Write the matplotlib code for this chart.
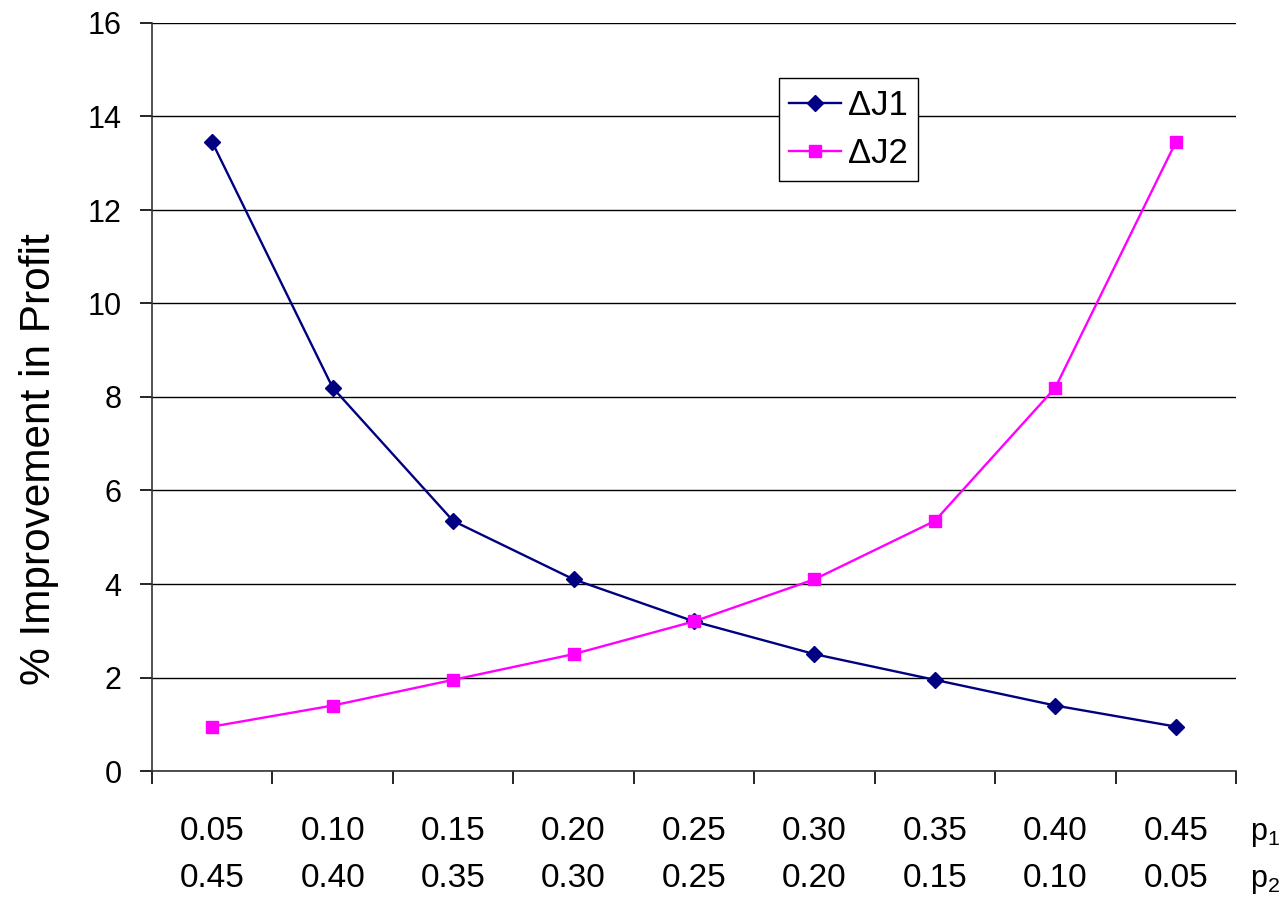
import matplotlib
matplotlib.use("Agg")
import matplotlib.pyplot as plt

p1_labels = ["0.05", "0.10", "0.15", "0.20", "0.25", "0.30", "0.35", "0.40", "0.45"]
p2_labels = ["0.45", "0.40", "0.35", "0.30", "0.25", "0.20", "0.15", "0.10", "0.05"]
dJ1 = [13.45, 8.2, 5.35, 4.1, 3.2, 2.5, 1.95, 1.4, 0.95]
dJ2 = [0.95, 1.4, 1.95, 2.5, 3.2, 4.1, 5.35, 8.2, 13.45]
y_ticks = [0, 2, 4, 6, 8, 10, 12, 14, 16]

plt.rcParams['font.family'] = ['Liberation Sans', 'DejaVu Sans']

fig = plt.figure(figsize=(12.86, 8.97), dpi=100)
ax = fig.add_axes([152/1286, 1-771/897, (1236-152)/1286, (771-23)/897])

x = list(range(len(p1_labels)))
ax.plot(x, dJ1, color='#000080', marker='D', markersize=8.5, linewidth=1.7, label='ΔJ1', zorder=3)
ax.plot(x, dJ2, color='#FF00FF', marker='s', markersize=8.5, linewidth=1.7, label='ΔJ2', zorder=3)

ax.set_xlim(-0.5, len(x) - 0.5)
ax.set_ylim(0, 16)
ax.set_yticks(y_ticks)
ax.set_yticklabels([str(v) for v in y_ticks], fontsize=22)
ax.yaxis.grid(True, color='black', linewidth=1.0)
ax.set_axisbelow(True)

ax.set_xticks(x)
ax.set_xticklabels([])
ax.tick_params(axis='x', which='major', length=0)
ax.set_xticks([i - 0.5 for i in range(len(x) + 1)], minor=True)
ax.tick_params(axis='x', which='minor', length=9, width=1.2, direction='out')
ax.tick_params(axis='y', which='major', length=9, width=1.2, direction='out', pad=13)

xt = ax.get_xaxis_transform()
row1_y = -(831 - 771) / 748
row2_y = -(878 - 771) / 748
for xi, a, b in zip(x, p1_labels, p2_labels):
    ax.text(xi, row1_y, a, transform=xt, ha='center', va='center', fontsize=24)
    ax.text(xi, row2_y, b, transform=xt, ha='center', va='center', fontsize=24)

for s in ['top', 'right']:
    ax.spines[s].set_visible(False)
ax.spines['left'].set_color('#333333')
ax.spines['bottom'].set_color('#333333')
ax.spines['left'].set_linewidth(1.2)
ax.spines['bottom'].set_linewidth(1.2)

fig.text(39/1286, 1-459/897, '% Improvement in Profit', fontsize=30.5, rotation=90,
         ha='center', va='center')

fig.text(1250/1286, 1-834/897, r'$\mathregular{p_1}$', fontsize=22, va='center', ha='left')
fig.text(1250/1286, 1-881/897, r'$\mathregular{p_2}$', fontsize=22, va='center', ha='left')

leg = ax.legend(loc='upper left', bbox_to_anchor=(0.578, 0.926), fontsize=25, frameon=True,
                fancybox=False, edgecolor='black', framealpha=1, handlelength=1.5,
                handletextpad=0.2, borderpad=0.3, labelspacing=0.45, borderaxespad=0)
leg.get_frame().set_linewidth(1.0)

fig.savefig('out.png', dpi=100, facecolor='white')
